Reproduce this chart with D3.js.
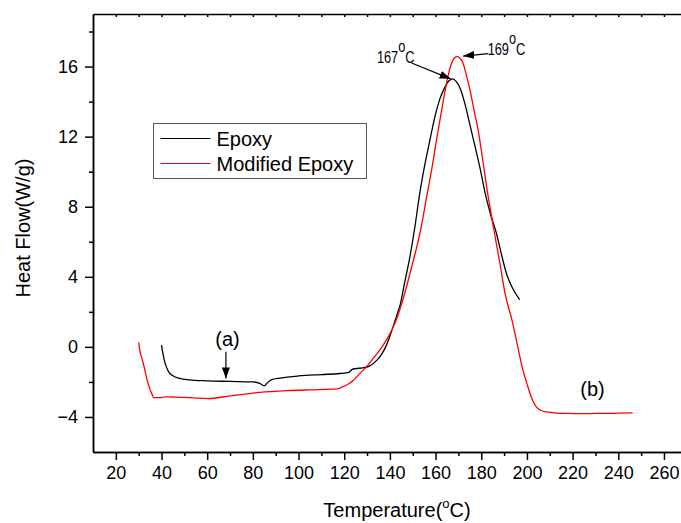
<!DOCTYPE html>
<html>
<head>
<meta charset="utf-8">
<script src="https://cdn.jsdelivr.net/npm/d3@7"></script>
<style>
body { margin: 0; background: #fff; }
text { font-family: "Liberation Sans", Arial, sans-serif; fill: #000; }
</style>
</head>
<body>
<div id="chart"></div>
<script>
// DSC curves: temperature (C) and heat flow (W/g)
var epoxyT  = [40, 40.5, 41.5, 43, 45, 48, 52, 60, 70, 80, 83, 85, 86, 88, 92, 100, 110, 118, 122, 123.5, 125, 128, 131, 134, 136.5, 138.5, 141, 143, 144.5, 146.5, 148.7, 151, 153, 155, 157.5, 160, 162, 164, 166, 167.5, 169, 170.6, 173, 175, 177, 179.3, 182, 184, 186.6, 189, 191, 193.5, 196.8]
var epoxyHF = [0.1, -0.3, -0.9, -1.4, -1.65, -1.8, -1.88, -1.94, -1.97, -2.0, -2.08, -2.22, -2.1, -1.88, -1.78, -1.66, -1.58, -1.52, -1.45, -1.28, -1.24, -1.2, -1.1, -0.8, -0.4, 0.1, 1.0, 1.8, 2.4, 3.7, 5.1, 6.9, 8.7, 10.2, 11.8, 13.3, 14.2, 14.8, 15.2, 15.3, 15.15, 14.8, 13.8, 12.7, 11.6, 10.3, 8.6, 7.6, 6.5, 5.2, 4.2, 3.4, 2.7]

var modT  = [30, 30.5, 31.5, 32.5, 33.5, 35, 36, 36.5, 40, 41.5, 45, 50, 55, 60, 70, 83, 95, 105, 116.7, 119, 122, 124, 127, 130, 133, 136, 138.5, 141, 143, 145, 147, 149, 151, 153.5, 156, 158, 160.4, 162.5, 164.8, 166.5, 168, 169.3, 170.5, 172, 173.5, 175, 177, 178.6, 180.5, 183, 185.5, 188, 190.5, 193.5, 196, 198, 200, 202, 204.1, 206, 208.5, 212, 218, 223, 230, 238, 246.3]
var modHF = [0.25, -0.2, -0.7, -1.2, -1.8, -2.45, -2.75, -2.9, -2.9, -2.85, -2.86, -2.88, -2.92, -2.95, -2.8, -2.6, -2.5, -2.45, -2.4, -2.3, -2.1, -1.9, -1.5, -1.1, -0.6, -0.1, 0.4, 1.0, 1.6, 2.4, 3.3, 4.3, 5.3, 6.7, 8.5, 9.9, 11.8, 13.4, 15.05, 16.0, 16.45, 16.57, 16.5, 16.2, 15.5, 14.7, 13.4, 12.4, 10.8, 8.6, 6.7, 4.9, 3.0, 1.5, 0.0, -1.2, -2.1, -2.9, -3.43, -3.62, -3.71, -3.77, -3.8, -3.81, -3.8, -3.79, -3.77]

var seriesNames = ["Epoxy", "Modified Epoxy"]

// axis ticks
var xMajor = [20, 40, 60, 80, 100, 120, 140, 160, 180, 200, 220, 240, 260]
var xMinor = [30, 50, 70, 90, 110, 130, 150, 170, 190, 210, 230, 250, 270]
var yMajor = [-4, 0, 4, 8, 12, 16]
var yMinor = [-2, 2, 6, 10, 14, 18]

// peak notes, anchored in data units
var peakText   = ["167", "169"]
var peakTextT  = [134.3, 182.8]
var peakTextHF = [16.2, 16.65]
var peakFromT  = [149.5, 183.1]
var peakFromHF = [16.2, 16.74]
var peakToT    = [166.6, 172.1]
var peakToHF   = [15.3, 16.6]

// (a) and (b) curve labels
var curveTag   = ["(a)", "(b)"]
var curveTagT  = [68.9, 228.7]
var curveTagHF = [0.05, -2.8]

var margin = { top: 14, left: 93 },
    width = 593.8,
    height = 438

var svg = d3.select("#chart")
    .append("svg")
    .attr("width", 681)
    .attr("height", 523)

var defs = svg.append("defs")
defs.append("marker")
    .attr("id", "arrow")
    .attr("markerUnits", "userSpaceOnUse")
    .attr("markerWidth", 12)
    .attr("markerHeight", 8)
    .attr("refX", 11)
    .attr("refY", 4)
    .attr("orient", "auto")
    .append("path")
    .attr("d", "M0,0 L11,4 L0,8 Z")
    .attr("fill", "#000")

var g = svg.append("g")
    .attr("transform", "translate(" + margin.left + "," + margin.top + ")")

var x = d3.scaleLinear().domain([10, 270]).range([0, width])
var y = d3.scaleLinear().domain([-6, 19]).range([height, 0])

function styleAxis(sel) {
    sel.attr("font-family", null).attr("font-size", null)
    sel.selectAll("path, line").attr("stroke", "#000").attr("stroke-width", 1.5)
    sel.selectAll("text").style("font-size", "18px")
}

// ----------------- //
// Axes
// ----------------- //

g.append("g")
    .attr("transform", "translate(0," + height + ")")
    .call(d3.axisBottom(x).tickValues(xMinor).tickSize(4).tickFormat("").tickSizeOuter(0))
    .call(styleAxis)
g.append("g")
    .attr("transform", "translate(0," + height + ")")
    .call(d3.axisBottom(x).tickValues(xMajor).tickSize(8).tickPadding(6).tickSizeOuter(0))
    .call(styleAxis)

g.append("g")
    .call(d3.axisLeft(y).tickValues(yMinor).tickSize(4).tickFormat("").tickSizeOuter(0))
    .call(styleAxis)
g.append("g")
    .call(d3.axisLeft(y).tickValues(yMajor).tickSize(8).tickPadding(7).tickSizeOuter(0))
    .call(styleAxis)

// top and right edges of the frame, small inward ticks
g.append("g")
    .call(d3.axisTop(x).tickValues(xMajor.concat(xMinor)).tickSize(-3).tickFormat("").tickSizeOuter(0))
    .call(styleAxis)
g.append("g")
    .attr("transform", "translate(" + width + ",0)")
    .call(d3.axisRight(y).tickValues(yMajor.concat(yMinor)).tickSize(-3).tickFormat("").tickSizeOuter(0))
    .call(styleAxis)

// axis titles
var xt = svg.append("text")
    .attr("x", 397)
    .attr("y", 517)
    .attr("text-anchor", "middle")
    .style("font-size", "20px")
xt.append("tspan").text("Temperature(")
xt.append("tspan").attr("dy", -9).style("font-size", "13px").text("o")
xt.append("tspan").attr("dy", 9).text("C)")

svg.append("text")
    .attr("transform", "translate(30,228) rotate(-90)")
    .attr("text-anchor", "middle")
    .style("font-size", "20px")
    .text("Heat Flow(W/g)")

// ------------------------------- //
// Curves
// ------------------------------- //

var line = d3.line()
    .x(function(d) { return x(d[0]) })
    .y(function(d) { return y(d[1]) })
    .curve(d3.curveMonotoneX)

var color = d3.scaleOrdinal().domain(seriesNames).range(["#000000", "#ff0000"])

g.append("path")
    .datum(d3.zip(epoxyT, epoxyHF))
    .attr("d", line)
    .attr("fill", "none")
    .attr("stroke", color("Epoxy"))
    .attr("stroke-width", 1.3)

g.append("path")
    .datum(d3.zip(modT, modHF))
    .attr("d", line)
    .attr("fill", "none")
    .attr("stroke", color("Modified Epoxy"))
    .attr("stroke-width", 1.3)

// ------------------------------- //
// Peak notes and arrows
// ------------------------------- //

peakText.forEach(function(t, i) {
    g.append("line")
        .attr("x1", x(peakFromT[i]))
        .attr("y1", y(peakFromHF[i]))
        .attr("x2", x(peakToT[i]))
        .attr("y2", y(peakToHF[i]))
        .attr("stroke", "#000")
        .attr("stroke-width", 1.2)
        .attr("marker-end", "url(#arrow)")

    // condensed look of the original labels
    var lab = g.append("text")
        .attr("transform", "translate(" + x(peakTextT[i]) + "," + y(peakTextHF[i]) + ") scale(0.8,1)")
        .style("font-size", "16px")
    lab.append("tspan").text(t)
    lab.append("tspan").attr("dy", -11).style("font-size", "16px").text("o")
    lab.append("tspan").attr("dy", 11).text("C")
})

// (a) with its arrow, (b)
curveTag.forEach(function(t, i) {
    g.append("text")
        .attr("x", x(curveTagT[i]))
        .attr("y", y(curveTagHF[i]))
        .attr("text-anchor", "middle")
        .style("font-size", "20px")
        .text(t)
})
g.append("line")
    .attr("x1", x(68.2))
    .attr("y1", y(-0.28))
    .attr("x2", x(68.2))
    .attr("y2", y(-1.8))
    .attr("stroke", "#000")
    .attr("stroke-width", 1.2)
    .attr("marker-end", "url(#arrow)")

// ------------------------------- //
// Legend
// ------------------------------- //

var legend = svg.append("g").attr("transform", "translate(153.5,123.5)")
legend.append("rect")
    .attr("width", 213)
    .attr("height", 55)
    .attr("fill", "#fff")
    .attr("stroke", "#555")
    .attr("stroke-width", 1)

seriesNames.forEach(function(name, i) {
    legend.append("line")
        .attr("x1", 7)
        .attr("x2", 57)
        .attr("y1", 15 + i * 25)
        .attr("y2", 15 + i * 25)
        .attr("stroke", color(name))
        .attr("stroke-width", 1)
    legend.append("text")
        .attr("x", 63)
        .attr("y", 22 + i * 25)
        .style("font-size", "20px")
        .text(name)
})
</script>
</body>
</html>
